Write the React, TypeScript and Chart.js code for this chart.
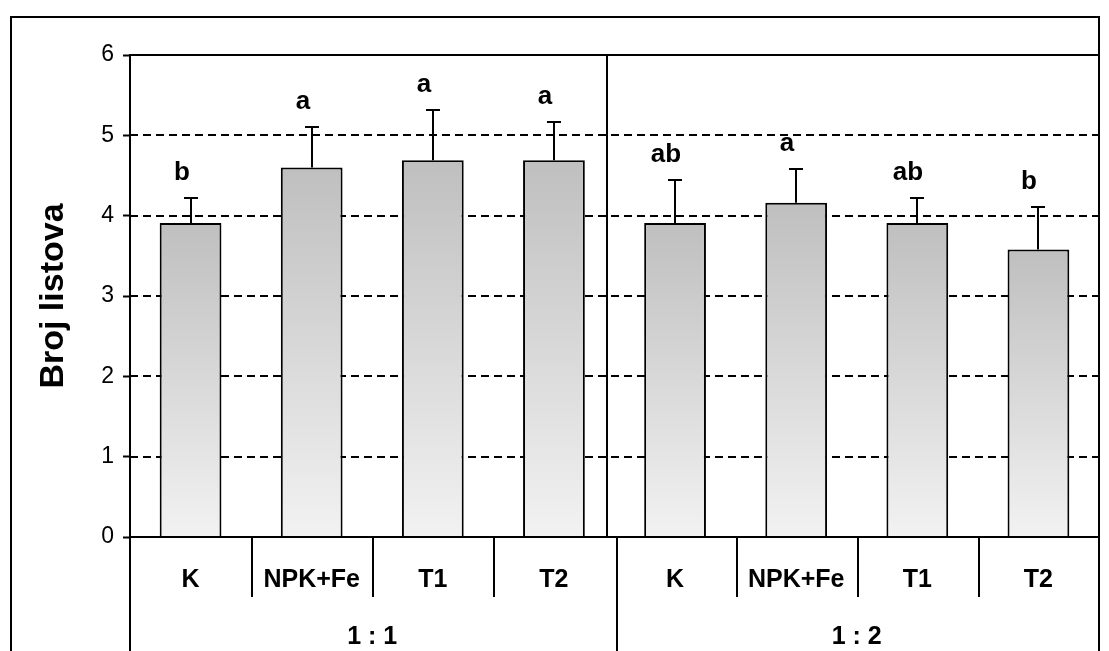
import React, { useEffect, useRef } from 'react';
import { Chart, registerables } from 'chart.js';

Chart.register(...registerables);

const categories = ['K', 'NPK+Fe', 'T1', 'T2', 'K', 'NPK+Fe', 'T1', 'T2'];
const groups = ['1 : 1', '1 : 2'];
const groupSize = 4;
const means = [3.91, 4.6, 4.69, 4.69, 3.91, 4.16, 3.91, 3.58];
const errors = [0.31, 0.5, 0.62, 0.47, 0.53, 0.42, 0.31, 0.53];
const letters = ['b', 'a', 'a', 'a', 'ab', 'a', 'ab', 'b'];
const yTicks = [0, 1, 2, 3, 4, 5, 6];
const yTitle = 'Broj listova';

const FONT = '"Liberation Sans", Arial, Helvetica, sans-serif';

const decor = {
  id: 'decor',
  beforeDatasetsDraw(chart: any) {
    const { ctx, chartArea: a, scales } = chart;
    const y = scales.y;
    const x = scales.x;
    ctx.save();
    ctx.strokeStyle = '#000';
    ctx.lineWidth = 2;
    ctx.setLineDash([8, 5]);
    for (const t of yTicks) {
      if (t === yTicks[0] || t === yTicks[yTicks.length - 1]) continue;
      const py = Math.round(y.getPixelForValue(t));
      ctx.beginPath();
      ctx.moveTo(a.left, py);
      ctx.lineTo(a.right, py);
      ctx.stroke();
    }
    ctx.setLineDash([]);
    const pt = Math.round(y.getPixelForValue(yTicks[yTicks.length - 1]));
    ctx.beginPath();
    ctx.moveTo(a.left, pt);
    ctx.lineTo(a.right, pt);
    ctx.stroke();
    const mid = (x.getPixelForValue(groupSize - 1) + x.getPixelForValue(groupSize)) / 2 - 8;
    ctx.beginPath();
    ctx.moveTo(Math.round(mid), pt);
    ctx.lineTo(Math.round(mid), a.bottom);
    ctx.stroke();
    ctx.restore();
  },
  afterDatasetsDraw(chart: any) {
    const { ctx, scales } = chart;
    const y = scales.y;
    const x = scales.x;
    ctx.save();
    ctx.strokeStyle = '#000';
    ctx.lineWidth = 2;
    ctx.fillStyle = '#000';
    ctx.font = `bold 26px ${FONT}`;
    ctx.textAlign = 'center';
    ctx.textBaseline = 'alphabetic';
    means.forEach((m, i) => {
      const px = Math.round(x.getPixelForValue(i));
      const pTop = y.getPixelForValue(m);
      const pErr = Math.round(y.getPixelForValue(m + errors[i]));
      ctx.beginPath();
      ctx.moveTo(px, pTop);
      ctx.lineTo(px, pErr);
      ctx.moveTo(px - 7, pErr);
      ctx.lineTo(px + 7, pErr);
      ctx.stroke();
      ctx.fillText(letters[i], px - 9, pErr - 18);
    });
    ctx.restore();
  },
  afterDraw(chart: any) {
    const { ctx, chartArea: a, scales, height } = chart;
    const x = scales.x;
    ctx.save();
    ctx.strokeStyle = '#000';
    ctx.fillStyle = '#000';
    ctx.lineWidth = 2;
    ctx.beginPath();
    ctx.moveTo(a.left, a.bottom);
    ctx.lineTo(a.right, a.bottom);
    ctx.stroke();
    ctx.strokeRect(11, 17, a.right - 11, height + 20);
    const n = categories.length;
    const boundary = (k: number) => {
      if (k <= 0) return a.left;
      if (k >= n) return a.right;
      return (x.getPixelForValue(k - 1) + x.getPixelForValue(k)) / 2;
    };
    ctx.font = `bold 25px ${FONT}`;
    ctx.textAlign = 'center';
    ctx.textBaseline = 'middle';
    for (let k = 0; k < n; k++) {
      ctx.fillText(categories[k], x.getPixelForValue(k), 580);
      if (k % groupSize !== 0) {
        const bx = Math.round(boundary(k)) + 1;
        ctx.beginPath();
        ctx.moveTo(bx, a.bottom);
        ctx.lineTo(bx, 597);
        ctx.stroke();
      }
    }
    for (let g = 0; g <= groups.length; g++) {
      const bx = Math.round(boundary(g * groupSize)) + (g === 0 || g === groups.length ? 0 : 2);
      ctx.beginPath();
      ctx.moveTo(bx, a.bottom);
      ctx.lineTo(bx, height);
      ctx.stroke();
    }
    groups.forEach((gl, g) => {
      const cx = (boundary(g * groupSize) + boundary((g + 1) * groupSize)) / 2;
      ctx.fillText(gl, cx, 637);
    });
    ctx.save();
    ctx.translate(54, (a.top + a.bottom) / 2);
    ctx.rotate(-Math.PI / 2);
    ctx.font = `bold 34px ${FONT}`;
    ctx.textAlign = 'center';
    ctx.textBaseline = 'middle';
    ctx.fillText(yTitle, 0, 0);
    ctx.restore();
    ctx.restore();
  },
};

export default function App() {
  const ref = useRef<HTMLCanvasElement | null>(null);
  useEffect(() => {
    if (!ref.current) return;
    const chart = new Chart(ref.current, {
      type: 'bar',
      data: {
        labels: categories,
        datasets: [
          {
            data: means,
            backgroundColor: (c: any) => {
              const ch = c.chart;
              const y = ch.scales && ch.scales.y;
              if (!ch.chartArea || !y || typeof c.raw !== 'number') return '#d0d0d0';
              const top = y.getPixelForValue(c.raw);
              const bottom = y.getPixelForValue(0);
              if (!isFinite(top) || !isFinite(bottom) || top === bottom) return '#d0d0d0';
              const g = ch.ctx.createLinearGradient(0, top, 0, bottom);
              g.addColorStop(0, '#bfbfbf');
              g.addColorStop(1, '#f2f2f2');
              return g;
            },
            borderColor: '#000',
            borderWidth: 2,
            borderSkipped: 'start',
            barPercentage: 0.51,
            categoryPercentage: 1,
          },
        ],
      },
      options: {
        responsive: false,
        animation: false,
        devicePixelRatio: 1,
        layout: { padding: { left: 0, top: 55, right: 10, bottom: 114 } },
        plugins: {
          legend: { display: false },
          tooltip: { enabled: false },
          title: { display: false },
        },
        scales: {
          x: { display: false, offset: true },
          y: {
            min: 0,
            max: 6,
            afterFit: (s: any) => {
              s.width = 130;
            },
            ticks: {
              stepSize: 1,
              color: '#000',
              font: { family: FONT, size: 23 },
              padding: 9,
            },
            grid: {
              drawOnChartArea: false,
              drawTicks: true,
              tickLength: 7,
              tickColor: '#000',
              tickWidth: 2,
            },
            border: { display: true, color: '#000', width: 2 },
          },
        },
      },
      plugins: [decor],
    } as any);
    return () => chart.destroy();
  }, []);
  return (
    <div style={{ position: 'fixed', left: 0, top: 0, width: 1109, height: 651, background: '#fff' }}>
      <canvas ref={ref} width={1109} height={651} style={{ display: 'block' }} />
    </div>
  );
}
